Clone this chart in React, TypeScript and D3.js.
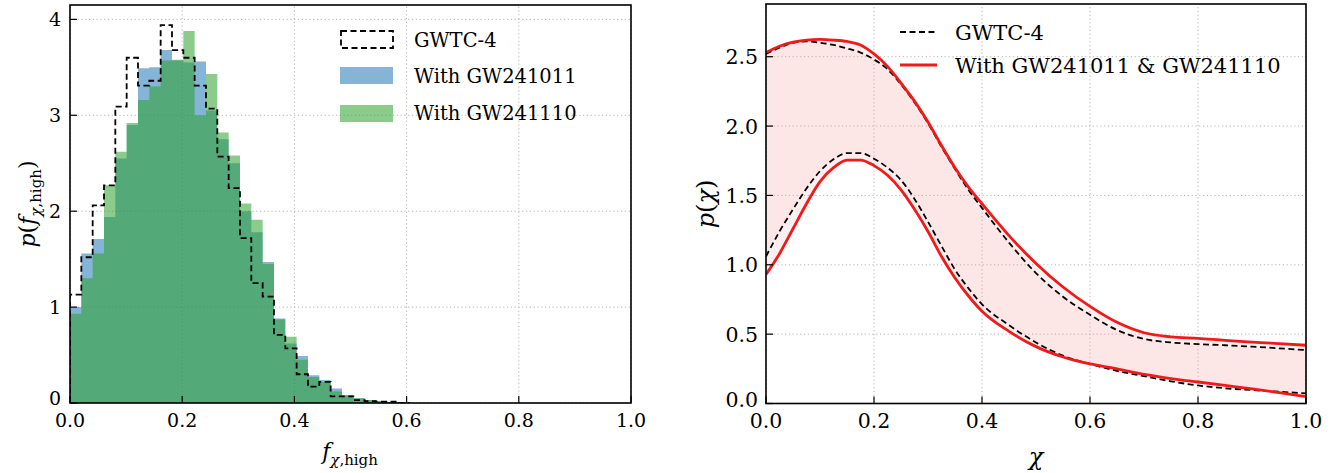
import React from "react";
import * as d3 from "d3";

// ---------- Left panel data: histograms of f_{chi,high} ----------
const BIN_WIDTH = 0.0202;
const gwtc4Hist = [1.13, 1.52, 2.06, 2.27, 3.09, 3.6, 3.31, 3.36, 3.94, 3.68, 3.6, 3.31, 3.07, 2.57, 2.24, 1.72, 1.25, 1.11, 0.71, 0.57, 0.3, 0.17, 0.22, 0.07, 0.07, 0.03, 0.02, 0.015, 0.015, 0];
const gw241011Hist = [1.0, 1.56, 1.71, 1.94, 2.55, 2.9, 3.49, 3.5, 3.68, 3.57, 3.55, 3.56, 3.05, 2.75, 2.5, 2.0, 1.78, 1.47, 0.88, 0.62, 0.49, 0.29, 0.24, 0.15, 0.08, 0.05, 0.03, 0.02, 0.01, 0];
const gw241110Hist = [0.93, 1.3, 1.56, 2.27, 2.62, 2.92, 3.16, 3.3, 3.57, 3.58, 3.88, 3.0, 3.43, 2.82, 2.58, 2.08, 1.91, 1.45, 0.87, 0.69, 0.45, 0.27, 0.22, 0.12, 0.08, 0.05, 0.03, 0.02, 0.01, 0];
const leftXTicks = [0, 0.2, 0.4, 0.6, 0.8, 1.0];
const leftYTicks = [0, 1, 2, 3, 4];

// ---------- Right panel data: p(chi) 90% bounds ----------
const chiGrid = [0, 0.025, 0.05, 0.075, 0.1, 0.125, 0.15, 0.175, 0.2, 0.225, 0.25, 0.275, 0.3, 0.325, 0.35, 0.375, 0.4, 0.45, 0.5, 0.55, 0.6, 0.65, 0.7, 0.75, 0.8, 0.85, 0.9, 0.95, 1.0];
const newUpper = [2.53, 2.575, 2.605, 2.62, 2.625, 2.62, 2.61, 2.585, 2.52, 2.43, 2.31, 2.18, 2.03, 1.86, 1.7, 1.56, 1.44, 1.21, 1.01, 0.84, 0.7, 0.585, 0.51, 0.48, 0.47, 0.455, 0.443, 0.432, 0.42];
const newLower = [0.93, 1.08, 1.26, 1.44, 1.6, 1.7, 1.755, 1.755, 1.715, 1.645, 1.54, 1.4, 1.24, 1.06, 0.905, 0.775, 0.665, 0.52, 0.41, 0.335, 0.285, 0.25, 0.21, 0.18, 0.155, 0.13, 0.105, 0.078, 0.05];
const oldUpper = [2.52, 2.565, 2.6, 2.61, 2.6, 2.585, 2.56, 2.53, 2.48, 2.41, 2.3, 2.17, 2.02, 1.85, 1.69, 1.54, 1.41, 1.16, 0.94, 0.77, 0.64, 0.53, 0.465, 0.44, 0.428, 0.42, 0.41, 0.398, 0.385];
const oldLower = [1.06, 1.24, 1.4, 1.55, 1.675, 1.76, 1.805, 1.805, 1.765, 1.7, 1.61, 1.475, 1.31, 1.135, 0.965, 0.83, 0.715, 0.565, 0.44, 0.345, 0.285, 0.235, 0.197, 0.16, 0.13, 0.11, 0.097, 0.085, 0.073];
const rightXTicks = [0, 0.2, 0.4, 0.6, 0.8, 1.0];
const rightYTicks = [0, 0.5, 1.0, 1.5, 2.0, 2.5];

const FONT = '"DejaVu Serif", serif';
const GRID = "#b4b4b4";
const BLUE = "#1f77b4";
const GREEN = "#2ca02c";
const RED = "#f01a1a";

function stepPath(vals: number[], x: any, y: any, closed: boolean) {
  let p = `M${x(0)},${y(0)}`;
  vals.forEach((v, i) => {
    p += `L${x(i * BIN_WIDTH)},${y(v)}L${x((i + 1) * BIN_WIDTH)},${y(v)}`;
  });
  p += `L${x(vals.length * BIN_WIDTH)},${y(0)}`;
  if (closed) p += "Z";
  return p;
}

const T = (props: any) => <text {...props} style={{ fontFamily: FONT, ...(props.style || {}) }} />;

function LeftPanel() {
  const x = d3.scaleLinear().domain([0, 1]).range([70, 631]);
  const y = d3.scaleLinear().domain([0, 4.15]).range([403, 5]);
  const fs = 19;
  const lfs = 19.5;
  return (
    <g>
      <defs>
        <clipPath id="clipL">
          <rect x={70} y={5} width={561} height={398} />
        </clipPath>
      </defs>
      {leftXTicks.map((t) => (
        <line key={"gx" + t} x1={x(t)} x2={x(t)} y1={y(0)} y2={5} stroke={GRID} strokeWidth={1} strokeDasharray="1.2,2.6" />
      ))}
      {leftYTicks.map((t) => (
        <line key={"gy" + t} x1={70} x2={631} y1={y(t)} y2={y(t)} stroke={GRID} strokeWidth={1} strokeDasharray="1.2,2.6" />
      ))}
      <g clipPath="url(#clipL)">
        <path d={stepPath(gw241011Hist, x, y, true)} fill={BLUE} fillOpacity={0.55} />
        <path d={stepPath(gw241110Hist, x, y, true)} fill={GREEN} fillOpacity={0.55} />
        <path d={stepPath(gwtc4Hist, x, y, false)} fill="none" stroke="#000" strokeWidth={1.8} strokeDasharray="6,3.5" />
      </g>
      {leftXTicks.map((t) => (
        <g key={"tx" + t}>
          <line x1={x(t)} x2={x(t)} y1={403} y2={396} stroke="#000" strokeWidth={1.2} />
          <T x={x(t)} y={427} textAnchor="middle" fontSize={fs}>{t.toFixed(1)}</T>
        </g>
      ))}
      {leftYTicks.map((t) => (
        <g key={"ty" + t}>
          <line x1={70} x2={77} y1={y(t)} y2={y(t)} stroke="#000" strokeWidth={1.2} />
          <T x={61} y={y(t) + 7 - (t === 0 ? 5 : 0)} textAnchor="end" fontSize={fs}>{String(t)}</T>
        </g>
      ))}
      <rect x={70} y={5} width={561} height={398} fill="none" stroke="#000" strokeWidth={1.6} />
      {/* legend */}
      <rect x={341} y={31} width={52} height={17} fill="none" stroke="#000" strokeWidth={1.8} strokeDasharray="6,3.5" />
      <rect x={340} y={67} width={53} height={17} fill={BLUE} fillOpacity={0.55} />
      <rect x={340} y={105} width={53} height={17} fill={GREEN} fillOpacity={0.55} />
      <T x={414} y={47} fontSize={lfs}>GWTC-4</T>
      <T x={414} y={83} fontSize={lfs}>With GW241011</T>
      <T x={414} y={120} fontSize={lfs}>With GW241110</T>
      {/* axis labels */}
      <T x={350} y={459} textAnchor="middle" fontSize={22}>
        <tspan fontStyle="italic">f</tspan>
        <tspan fontSize={15} dy={6}><tspan fontStyle="italic">χ</tspan>,high</tspan>
      </T>
      <T transform="translate(35,204) rotate(-90)" textAnchor="middle" fontSize={22}>
        <tspan fontStyle="italic">p</tspan>(<tspan fontStyle="italic">f</tspan>
        <tspan fontSize={15} dy={6}><tspan fontStyle="italic">χ</tspan>,high</tspan>
        <tspan dy={-6}>)</tspan>
      </T>
    </g>
  );
}

function RightPanel() {
  const x = d3.scaleLinear().domain([0, 1]).range([766, 1306]);
  const y = d3.scaleLinear().domain([0, 2.88]).range([403.5, 4]);
  const fs = 20.5;
  const pts = (arr: number[]) => chiGrid.map((c, i) => [c, arr[i]] as [number, number]);
  const line = d3.line<[number, number]>().x((d) => x(d[0])).y((d) => y(d[1])).curve(d3.curveMonotoneX);
  const band = d3
    .area<number>()
    .x((c) => x(c))
    .y0((_, i) => y(newLower[i]))
    .y1((_, i) => y(newUpper[i]))
    .curve(d3.curveMonotoneX);
  const bandOld = d3
    .area<number>()
    .x((c) => x(c))
    .y0((_, i) => y(oldLower[i]))
    .y1((_, i) => y(oldUpper[i]))
    .curve(d3.curveMonotoneX);
  return (
    <g>
      <defs>
        <clipPath id="clipR">
          <rect x={766} y={4} width={540} height={399.5} />
        </clipPath>
      </defs>
      {rightXTicks.map((t) => (
        <line key={"gx" + t} x1={x(t)} x2={x(t)} y1={y(0)} y2={4} stroke={GRID} strokeWidth={1} strokeDasharray="1.2,2.6" />
      ))}
      {rightYTicks.map((t) => (
        <line key={"gy" + t} x1={766} x2={1306} y1={y(t)} y2={y(t)} stroke={GRID} strokeWidth={1} strokeDasharray="1.2,2.6" />
      ))}
      <g clipPath="url(#clipR)">
        <path d={band(chiGrid) || ""} fill="#f29a9a" fillOpacity={0.16} />
        <path d={bandOld(chiGrid) || ""} fill="#f29a9a" fillOpacity={0.1} />
        <path d={line(pts(oldUpper)) || ""} fill="none" stroke="#000" strokeWidth={1.8} strokeDasharray="6,3.5" />
        <path d={line(pts(oldLower)) || ""} fill="none" stroke="#000" strokeWidth={1.8} strokeDasharray="6,3.5" />
        <path d={line(pts(newUpper)) || ""} fill="none" stroke={RED} strokeWidth={2.8} />
        <path d={line(pts(newLower)) || ""} fill="none" stroke={RED} strokeWidth={2.8} />
      </g>
      {rightXTicks.map((t) => (
        <g key={"tx" + t}>
          <line x1={x(t)} x2={x(t)} y1={403.5} y2={396.5} stroke="#000" strokeWidth={1.2} />
          <T x={x(t)} y={428} textAnchor="middle" fontSize={fs}>{t.toFixed(1)}</T>
        </g>
      ))}
      {rightYTicks.map((t) => (
        <g key={"ty" + t}>
          <line x1={766} x2={773} y1={y(t)} y2={y(t)} stroke="#000" strokeWidth={1.2} />
          <T x={758} y={y(t) + 7.5 - (t === 0 ? 4 : 0)} textAnchor="end" fontSize={fs}>{t.toFixed(1)}</T>
        </g>
      ))}
      <rect x={766} y={4} width={540} height={399.5} fill="none" stroke="#000" strokeWidth={1.6} />
      {/* legend */}
      <line x1={900} x2={937} y1={32} y2={32} stroke="#000" strokeWidth={1.8} strokeDasharray="6,3.5" />
      <line x1={900} x2={937} y1={65} y2={65} stroke={RED} strokeWidth={2.8} />
      <T x={955} y={40} fontSize={21}>GWTC-4</T>
      <T x={955} y={73} fontSize={21}>With GW241011 &amp; GW241110</T>
      {/* axis labels */}
      <T x={1036} y={465} textAnchor="middle" fontSize={24} fontStyle="italic">χ</T>
      <T transform="translate(714,204) rotate(-90)" textAnchor="middle" fontSize={24}>
        <tspan fontStyle="italic">p</tspan>(<tspan fontStyle="italic">χ</tspan>)
      </T>
    </g>
  );
}

export default function App() {
  return (
    <svg width={1341} height={473} style={{ position: "absolute", left: 0, top: 0, background: "#fff" }}>
      <rect x={0} y={0} width={1341} height={473} fill="#fff" />
      <LeftPanel />
      <RightPanel />
    </svg>
  );
}
